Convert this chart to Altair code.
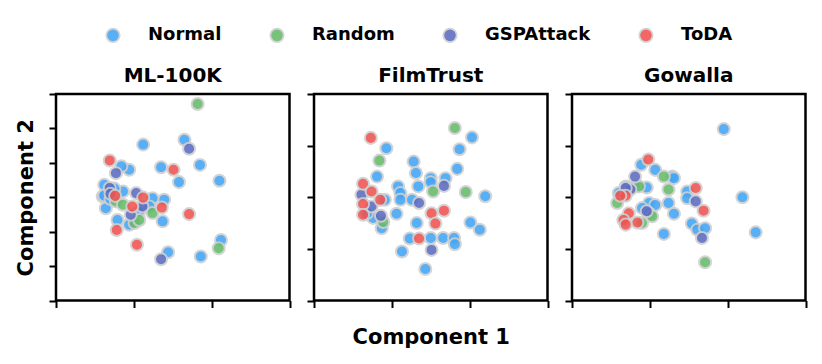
import altair as alt
import pandas as pd

series = ["Normal", "Random", "GSPAttack", "ToDA"]
colors = ["#42A5F5", "#66BB6A", "#5C6BC0", "#EF5350"]
datasets = ["ML-100K", "FilmTrust", "Gowalla"]

# ---- ML-100K ----
ml_normal_x = [1.12, 1.65, 1.85, 2.10, 1.35, 1.58, 0.94, 2.12, 1.86, 1.44, 1.37, 1.39, 1.24, 0.62, 0.64,
               0.79, 0.94, 0.84, 0.69, 0.60, 0.86, 1.07, 1.20, 0.62, 0.70, 0.75]
ml_normal_y = [4.53, 4.67, 3.94, 3.48, 3.87, 3.44, 3.80, 1.76, 1.28, 1.40, 2.30, 2.93, 2.97, 3.36, 2.68,
               2.34, 2.20, 3.90, 3.17, 3.02, 3.17, 2.59, 2.73, 3.05, 2.95, 3.25]
ml_random_x = [1.82, 2.09, 0.77, 1.01, 1.24, 1.07, 0.86]
ml_random_y = [5.71, 1.52, 2.88, 2.25, 2.54, 2.34, 2.78]
ml_gsp_x = [1.71, 0.77, 0.69, 1.03, 0.96, 1.35, 1.11, 0.70]
ml_gsp_y = [4.41, 3.70, 3.27, 3.12, 2.49, 1.20, 2.73, 3.10]
ml_toda_x = [0.69, 1.51, 0.76, 1.12, 0.98, 1.36, 1.71, 0.78, 1.04]
ml_toda_y = [4.07, 3.80, 3.04, 2.99, 2.73, 2.70, 2.51, 2.05, 1.62]

# ---- FilmTrust ----
ft_normal_x = [2.03, 0.93, 1.87, 1.28, 1.84, 1.31, 1.50, 1.69, 0.81, 1.50, 1.08, 1.34, 1.11, 0.91, 1.11,
               1.26, 2.20, 1.06, 1.32, 2.01, 2.13, 0.87, 1.23, 1.50, 1.66, 1.80, 1.81, 1.13, 1.43, 0.76, 0.68]
ft_normal_y = [3.16, 2.95, 2.93, 2.69, 2.55, 2.47, 2.37, 2.37, 2.40, 2.29, 2.21, 2.21, 2.08, 1.95, 1.95,
               1.95, 2.02, 1.68, 1.50, 1.51, 1.37, 1.40, 1.20, 1.21, 1.21, 1.21, 1.09, 0.95, 0.61, 1.60, 1.69]
ft_random_x = [1.81, 0.84, 1.53, 1.95, 0.89]
ft_random_y = [3.34, 2.71, 2.11, 2.10, 1.52]
ft_gsp_x = [1.67, 1.35, 0.86, 1.51, 0.61, 0.74]
ft_gsp_y = [2.22, 1.89, 1.64, 0.98, 2.05, 1.82]
ft_toda_x = [0.73, 0.63, 0.74, 0.85, 0.63, 0.63, 1.51, 1.67, 1.56, 1.35]
ft_toda_y = [3.15, 2.26, 2.11, 1.95, 1.87, 1.66, 1.69, 1.74, 1.49, 1.20]

# ---- Gowalla ----
gw_normal_x = [1.95, 2.19, 2.36, 0.89, 1.07, 1.29, 1.31, 0.96, 1.24, 1.31, 1.18, 1.48, 1.48, 1.54, 1.61,
               1.71, 0.99, 1.07, 0.90, 0.69, 0.60, 0.81, 0.99]
gw_normal_y = [3.32, 2.00, 1.32, 2.63, 2.53, 2.40, 2.37, 2.19, 1.89, 1.68, 1.29, 2.11, 1.98, 1.49, 1.37,
               1.40, 1.89, 1.85, 1.79, 2.21, 2.08, 2.21, 1.69]
gw_random_x = [1.18, 1.24, 1.71, 0.86, 0.90, 1.03, 0.58]
gw_random_y = [2.40, 2.15, 0.74, 2.21, 1.50, 1.63, 1.89]
gw_gsp_x = [0.81, 0.75, 0.96, 1.59, 1.67, 0.69]
gw_gsp_y = [2.40, 2.15, 1.73, 1.92, 1.21, 2.18]
gw_toda_x = [0.98, 1.59, 1.69, 0.69, 0.62, 0.73, 0.66, 0.84, 0.69]
gw_toda_y = [2.73, 2.18, 1.74, 2.03, 2.03, 1.69, 1.56, 1.51, 1.47]

y_max = {"ML-100K": 6, "FilmTrust": 4, "Gowalla": 4}

table = {
    "ML-100K": [(ml_normal_x, ml_normal_y), (ml_random_x, ml_random_y), (ml_gsp_x, ml_gsp_y), (ml_toda_x, ml_toda_y)],
    "FilmTrust": [(ft_normal_x, ft_normal_y), (ft_random_x, ft_random_y), (ft_gsp_x, ft_gsp_y), (ft_toda_x, ft_toda_y)],
    "Gowalla": [(gw_normal_x, gw_normal_y), (gw_random_x, gw_random_y), (gw_gsp_x, gw_gsp_y), (gw_toda_x, gw_toda_y)],
}

rows = []
for ds in datasets:
    for k, (xs, ys) in enumerate(table[ds]):
        for xv, yv in zip(xs, ys):
            rows.append({"dataset": ds, "series": series[k], "rank": k, "x": xv, "y": yv})
df = pd.DataFrame(rows)

FONT = "DejaVu Sans"


def panel(ds, idx):
    d = df[df["dataset"] == ds]
    xax = dict(values=[0, 1, 2, 3], labels=False, domain=False, grid=False,
               tickSize=7, tickWidth=2, tickColor="black",
               titleFont=FONT, titleFontSize=21, titleFontWeight="bold", titleColor="black", titlePadding=18)
    yax = dict(values=list(range(y_max[ds] + 1)), labels=False, domain=False, grid=False,
               tickSize=7, tickWidth=2, tickColor="black",
               titleFont=FONT, titleFontSize=21, titleFontWeight="bold", titleColor="black", titlePadding=12)
    xkw = {"title": "Component 1"} if idx == 1 else {"title": ""}
    ykw = {"title": "Component 2"} if idx == 0 else {"title": ""}
    return alt.Chart(d).mark_circle(
        size=145, opacity=0.88, stroke="#cfcfcf", strokeWidth=2
    ).encode(
        x=alt.X("x:Q", scale=alt.Scale(domain=[0, 3], nice=False, zero=False), axis=alt.Axis(**xax), **xkw),
        y=alt.Y("y:Q", scale=alt.Scale(domain=[0, y_max[ds]], nice=False, zero=False), axis=alt.Axis(**yax), **ykw),
        color=alt.Color("series:N", scale=alt.Scale(domain=series, range=colors),
                        legend=alt.Legend(title=None, orient="none", direction="horizontal",
                                          legendX=48, legendY=-68)),
        order=alt.Order("rank:Q"),
    ).properties(
        width=233.5, height=206.5,
        title=alt.TitleParams(ds, font=FONT, fontSize=20, fontWeight="bold", color="black", offset=7),
    )


chart = alt.hconcat(*[panel(ds, i) for i, ds in enumerate(datasets)], spacing=24, bounds="flush").properties(
    padding={"left": 5, "top": 18, "right": 5, "bottom": 5},
).configure_view(
    stroke="black", strokeWidth=2.5
).configure_legend(
    labelFont=FONT, labelFontSize=18, labelFontWeight="bold", labelColor="black",
    symbolType="circle", symbolSize=180, symbolStrokeColor="#cfcfcf", symbolStrokeWidth=1.8,
    symbolOpacity=0.88, labelOffset=26, columnPadding=44, padding=0,
)

chart.save("out.html", embed_options={"renderer": "svg", "actions": False})
